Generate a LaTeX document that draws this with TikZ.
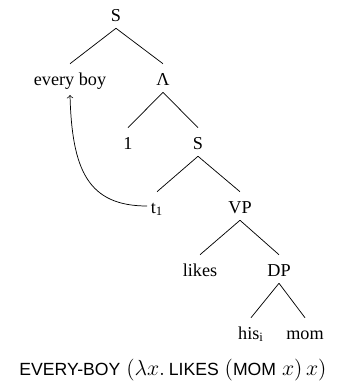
\documentclass[tikz,border=0pt]{standalone}
\usepackage{fontspec}
\setmainfont{Liberation Serif}
\setsansfont{Liberation Sans}
\newcommand{\cn}[1]{{\sffamily\fontsize{9.7}{11}\selectfont #1}}

\begin{document}
\begin{tikzpicture}[x=0.55pt,y=-0.55pt,
	lbl/.style={anchor=base,inner sep=1.8pt,text height=9.7pt,text depth=2pt}]
	\useasboundingbox (0,0) rectangle (346,392);
	\node[lbl] (s) at (116,21) {S};
	\node[lbl] (boy) at (70,85) {every boy};
	\node[lbl] (lam) at (163,85) {Λ};
	\node[lbl] (one) at (128,149) {1};
	\node[lbl] (s2) at (198,149) {S};
	\node[lbl] (t1) at (157,213) {t\textsubscript{1}};
	\node[lbl] (vp) at (240,213) {VP};
	\node[lbl] (likes) at (200,276) {likes};
	\node[lbl] (dp) at (279,276) {DP};
	\node[lbl] (his) at (251,339) {his\textsubscript{i}};
	\node[lbl] (mom) at (305,339) {mom};
	\draw (s.south) -- (boy.north);
	\draw (s.south) -- (lam.north);
	\draw (lam.south) -- (one.north);
	\draw (lam.south) -- (s2.north);
	\draw (s2.south) -- (t1.north);
	\draw (s2.south) -- (vp.north);
	\draw (vp.south) -- (likes.north);
	\draw (vp.south) -- (dp.north);
	\draw (dp.south) -- (his.north);
	\draw (dp.south) -- (mom.north);
	\draw[->] (t1.west) .. controls (88,206) and (72,170) .. ([yshift=-1.5pt]boy.south);
	\node[anchor=base,font=\fontsize{13}{15}\selectfont] (lf) at (173,375)
		{\cn{EVERY-BOY} $(\lambda x.\,$\cn{LIKES} $($\cn{MOM} $x)\,x)$};
\end{tikzpicture}
\end{document}
